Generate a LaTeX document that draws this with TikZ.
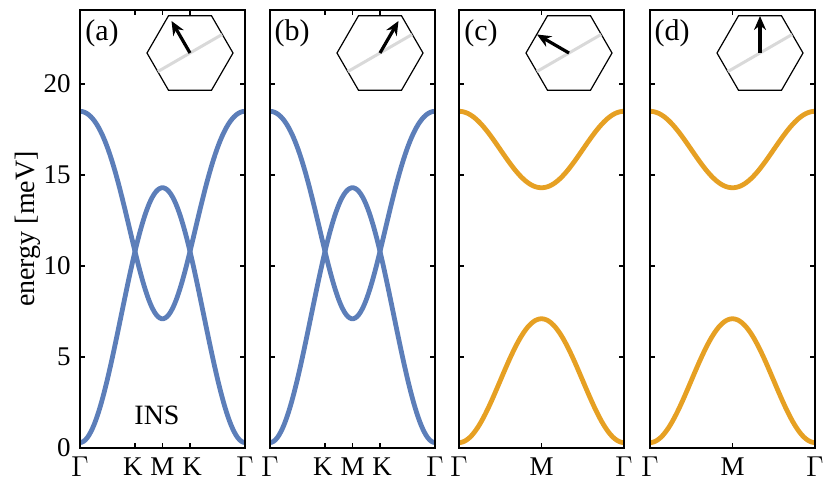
\documentclass[tikz,border=0pt]{standalone}
\usepackage{fontspec}
\setmainfont{Liberation Serif}
\usetikzlibrary{arrows.meta}
\definecolor{bandblue}{RGB}{92,126,185}
\definecolor{bandorange}{RGB}{230,160,35}
\tikzset{
 frame/.style={line width=0.6pt},
 band/.style={line width=2.4pt,smooth,samples=90},
 lbl/.style={font=\fontsize{13.5}{15}\selectfont,inner sep=0pt},
 hexa/.style={line width=0.6pt},
 gline/.style={line width=1.5pt,black!15},
 spin/.style={line width=1.6pt,-{Stealth[length=7pt,width=6pt]}},
}
\begin{document}
\begin{tikzpicture}[x=0.5pt,y=-0.5pt]
\useasboundingbox (0,0) rectangle (829,493);
\def\W{165}
\foreach \xo/\nm/\kind/\ang in {80/a/1/-120, 270/b/1/-60, 459/c/0/-150, 650/d/0/-90}{
  \begin{scope}[shift={(\xo,0)}]
  \ifnum\kind=1
   \draw[band,bandblue] plot[domain=0:1] (\x*\W,{448-18.2*(7.3-7*cos(360*\x))});
   \draw[band,bandblue] plot[domain=0:1] (\x*\W,{448-18.2*(13.367+5.7*cos(360*\x)-0.567*cos(720*\x))});
  \else
   \draw[band,bandorange] plot[domain=0:1] (\x*\W,{448-18.2*(3.7-3.4*cos(360*\x))});
   \draw[band,bandorange] plot[domain=0:1] (\x*\W,{448-18.2*(16.4+2.1*cos(360*\x))});
  \fi
  \draw[frame] (0,10) rectangle (\W,448);
  \foreach \e in {0,5,10,15,20}{
    \draw[frame] (0,{448-18.2*\e}) -- ++(5,0);
    \draw[frame] (\W,{448-18.2*\e}) -- ++(-5,0);
  }
  \ifnum\kind=1
   \foreach \t in {0.3333,0.5,0.6667}{
    \draw[frame] ({\t*\W},448) -- ++(0,-5);
    \draw[frame] ({\t*\W},10) -- ++(0,5);}
   \node[lbl] at (0,467) {$\Gamma$};
   \node[lbl] at ({0.3333*\W-2},467) {K};
   \node[lbl] at ({0.5*\W},467) {M};
   \node[lbl] at ({0.6667*\W+2},467) {K};
   \node[lbl] at (\W,467) {$\Gamma$};
  \else
   \draw[frame] ({0.5*\W},448) -- ++(0,-5);
   \draw[frame] ({0.5*\W},10) -- ++(0,5);
   \node[lbl] at (0,467) {$\Gamma$};
   \node[lbl] at ({0.5*\W},467) {M};
   \node[lbl] at (\W,467) {$\Gamma$};
  \fi
  \node[lbl,font=\fontsize{15}{17}\selectfont] (p\nm) at (22,33) {(\nm)};
  \coordinate (c\nm) at (110,53);
  \draw[hexa] (c\nm) ++(43,0) -- ++(120:43) -- ++(180:43) -- ++(240:43) -- ++(300:43) -- ++(0:43) -- cycle;
  \draw[gline] (c\nm) ++(-30:37) -- ++(150:74);
  \draw[spin] (c\nm) -- ++(\ang:37);
  \end{scope}
}
\foreach \e in {0,5,10,15,20}{
  \node[lbl,anchor=east] at (71,{448-18.2*\e}) {\e};
}
\node[lbl,rotate=90,font=\fontsize{14}{16}\selectfont] (yl) at (28,229) {energy [meV]};
\node[lbl,font=\fontsize{14}{16}\selectfont] (ins) at (157,415) {INS};
\end{tikzpicture}
\end{document}
